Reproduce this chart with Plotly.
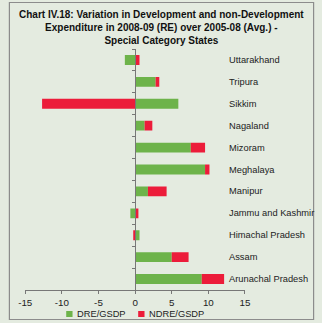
import plotly.graph_objects as go

states = ["Uttarakhand", "Tripura", "Sikkim", "Nagaland", "Mizoram", "Meghalaya",
          "Manipur", "Jammu and Kashmir", "Himachal Pradesh", "Assam", "Arunachal Pradesh"]
dre = [-1.4, 2.8, 5.9, 1.3, 7.6, 9.55, 1.75, -0.65, 0.6, 5.0, 9.1]
ndre = [0.6, 0.5, -12.7, 1.05, 1.95, 0.6, 2.55, 0.45, -0.2, 2.3, 3.05]
series_names = ["DRE/GSDP", "NDRE/GSDP"]
xticks = [-15, -10, -5, 0, 5, 10, 15]
xticklabels = ["-15", "-10", "-5", "0", "5", "10", "15"]

W, H = 322, 323
L_PX, R_PX = 19, 248
TOP, BOT = 49, 290
green = "#6db34a"
red = "#ec1c3a"
bg = "#e4ebe0"
FONT = "Liberation Sans, Arial, sans-serif"

fig = go.Figure()
fig.add_trace(go.Bar(y=states, x=dre, orientation="h", name=series_names[0],
                     marker=dict(color=green, line=dict(width=0))))
fig.add_trace(go.Bar(y=states, x=ndre, orientation="h", name=series_names[1],
                     marker=dict(color=red, line=dict(width=0))))

for s in states:
    fig.add_annotation(x=12.6, y=s, xref="x", yref="y", text=s, showarrow=False,
                       xanchor="left", font=dict(size=9.3, color="#222"))

ph = BOT - TOP
def py(p):
    return (BOT - p) / ph
def px(p):
    return p / W

fig.add_annotation(
    text="<b>Chart IV.18: Variation in Development and non-Development<br>"
         "Expenditure in 2008-09 (RE) over 2005-08 (Avg.) -<br>"
         "Special Category States</b>",
    xref="paper", yref="paper", x=0.5, y=py(7.5), xanchor="center", yanchor="top",
    showarrow=False, align="center", font=dict(size=10, color="#111"))

# custom legend (small square swatches)
for (sx, tx, col, name) in [(61.7, 70.7, green, series_names[0]),
                            (136.7, 146.3, red, series_names[1])]:
    fig.add_shape(type="rect", xref="paper", yref="paper", x0=px(sx), x1=px(sx + 6.6),
                  y0=py(317), y1=py(311), fillcolor=col, line=dict(width=0))
    fig.add_annotation(text=name, xref="paper", yref="paper", x=px(tx), y=py(314),
                       xanchor="left", yanchor="middle", showarrow=False,
                       font=dict(size=9.3, color="#222"))

fig.add_shape(type="rect", xref="paper", yref="paper", x0=px(2.5), x1=px(319.5),
              y0=py(319.5), y1=py(2.5), line=dict(color="#8c8c8c", width=1.2),
              fillcolor="rgba(0,0,0,0)", layer="above")

fig.update_layout(
    width=W, height=H,
    margin=dict(l=0, r=0, t=TOP, b=H - BOT, pad=0),
    paper_bgcolor=bg, plot_bgcolor="rgba(0,0,0,0)",
    barmode="relative", bargap=0.55,
    font=dict(family=FONT, size=10, color="#222"),
    xaxis=dict(domain=[L_PX / W, R_PX / W], range=[-15, 15], tickvals=xticks,
               ticktext=xticklabels,
               showgrid=False, zeroline=False, showline=True, linecolor="#777",
               linewidth=1, ticks="outside", ticklen=3, tickcolor="#777",
               tickfont=dict(size=9.8, color="#222")),
    yaxis=dict(type="category", categoryorder="array", categoryarray=states[::-1],
               range=[-0.5, 10.5], anchor="free", position=(L_PX + (R_PX - L_PX) / 2) / W,
               showgrid=False, zeroline=False, showline=True, linecolor="#777",
               linewidth=1, ticks="outside", ticklen=3, tickcolor="#777",
               tickson="boundaries", showticklabels=False),
    showlegend=False,
)

fig.write_html("out.html")
